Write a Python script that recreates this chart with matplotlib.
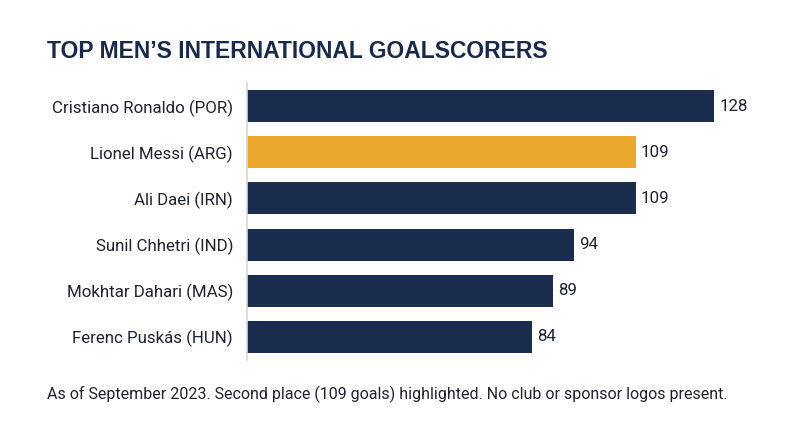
import matplotlib
matplotlib.use('Agg')
import matplotlib.pyplot as plt

# data
players = ['Cristiano Ronaldo (POR)', 'Lionel Messi (ARG)', 'Ali Daei (IRN)',
           'Sunil Chhetri (IND)', 'Mokhtar Dahari (MAS)', 'Ferenc Puskás (HUN)']
goals = [128, 109, 109, 94, 89, 84]
highlight = 'Lionel Messi (ARG)'

navy = '#1b2d4f'
gold = '#e9a82c'
text_col = '#1f2330'

plt.rcParams['font.family'] = ['Roboto', 'DejaVu Sans']

fig = plt.figure(figsize=(8, 4.47), dpi=100)
ax = fig.add_axes([247/800, 1 - 360/447, 513/800, 277/447])

colors = [gold if p == highlight else navy for p in players]
ax.barh(range(len(players)), goals, height=0.69, color=colors, left=0)
ax.set_xlim(15, 139)
ax.set_ylim(len(players) - 0.5, -0.5)

ax.set_yticks(range(len(players)))
ax.set_yticklabels(players, fontsize=12.2, color=text_col)
ax.tick_params(axis='y', length=0, pad=10)
ax.set_xticks([])

for s in ['top', 'right', 'bottom']:
    ax.spines[s].set_visible(False)
ax.spines['left'].set_color('#d5d7db')
ax.spines['left'].set_linewidth(1.2)

for i, g in enumerate(goals):
    ax.annotate(str(g), (g, i), xytext=(3.5, 0), textcoords='offset points',
                va='center', ha='left', fontsize=12.2, color=text_col)

fig.text(47/800, 1 - 52/447, 'TOP MEN’S INTERNATIONAL GOALSCORERS',
         fontsize=16.5, fontweight='bold', color='#182a48', va='center', ha='left',
         family=['Liberation Sans', 'DejaVu Sans'])
fig.text(47/800, 1 - 394/447,
         'As of September 2023. Second place (109 goals) highlighted. No club or sponsor logos present.',
         fontsize=11.55, color=text_col, va='center', ha='left')

fig.savefig('out.png', dpi=100)
